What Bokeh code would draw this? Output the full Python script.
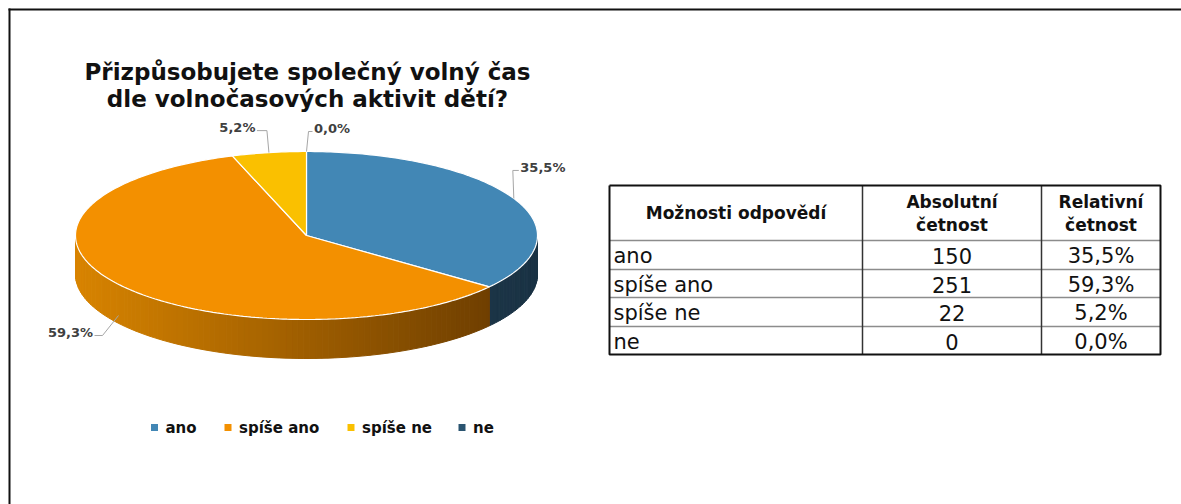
import numpy as np
from bokeh.plotting import figure
from bokeh.models import Range1d
from bokeh.core.properties import value
from bokeh.embed import file_html
from bokeh.resources import INLINE

# ---------------- data ----------------
title_lines = ["Přizpůsobujete společný volný čas", "dle volnočasových aktivit dětí?"]
categories = ["ano", "spíše ano", "spíše ne", "ne"]
counts = [150, 251, 22, 0]
table_header = ["Možnosti odpovědí", "Absolutní", "četnost", "Relativní", "četnost"]

# ---------------- styles ----------------
top_colors = ["#4287b5", "#f39000", "#fac000", "#2a5470"]
side_light = ["#24465e", "#d88400", "#c99a00", "#1e3a4e"]
side_dark = ["#1a3244", "#633700", "#7a5e00", "#15293a"]
FONT = value("DejaVu Sans")

W, H = 1181, 504

p = figure(width=W, height=H, output_backend="svg", toolbar_location=None,
           x_range=Range1d(0, W), y_range=Range1d(H, 0), min_border=0,
           x_axis_type=None, y_axis_type=None)
p.grid.visible = False
p.outline_line_color = None
p.background_fill_color = "white"
p.border_fill_color = "white"

# frame lines (top and left), running off the page edges
p.segment(x0=[8, 9], y0=[9, 8], x1=[W + 20, 9], y1=[9, H + 20],
          line_color="#111111", line_width=2)

# ---------------- title ----------------
p.text(x=[307] * 2, y=[71, 98], text=title_lines, text_font=FONT,
       text_font_style="bold", text_font_size="23px", text_color="#111111",
       text_align="center", text_baseline="alphabetic")

# ---------------- 3D pie ----------------
CX, CY = 306, 235
RX, RY = 231, 84
DEPTH = 39

def pt(theta):
    t = np.radians(theta)
    return CX + RX * np.sin(t), CY - RY * np.cos(t)

total = float(sum(counts))
extents = [c / total * 360.0 for c in counts]
starts = np.concatenate([[0.0], np.cumsum(extents)[:-1]])

def lerp_color(c1, c2, u):
    a = [int(c1[i:i + 2], 16) for i in (1, 3, 5)]
    b = [int(c2[i:i + 2], 16) for i in (1, 3, 5)]
    r = [int(round(a[k] + (b[k] - a[k]) * u)) for k in range(3)]
    return "#%02x%02x%02x" % tuple(r)

# side walls (visible between 90 and 270 degrees)
sx, sy, sc = [], [], []
for i, (s, e) in enumerate(zip(starts, extents)):
    a0, a1 = max(s, 90.0), min(s + e, 270.0)
    if e <= 0 or a1 <= a0:
        continue
    n = max(2, int((a1 - a0) / 1.5))
    ts = np.linspace(a0, a1, n + 1)
    for k in range(n):
        xa, ya = pt(ts[k])
        xb, yb = pt(ts[k + 1])
        sx.append([xa, xb, xb, xa])
        sy.append([ya, yb, yb + DEPTH, ya + DEPTH])
        u = ((xa + xb) / 2 - (CX - RX)) / (2 * RX)
        sc.append(lerp_color(side_light[i], side_dark[i], u))
p.patches(xs=sx, ys=sy, fill_color=sc, line_color=sc, line_width=1)

# top faces
tx, ty, tc = [], [], []
for i, (s, e) in enumerate(zip(starts, extents)):
    if e <= 0:
        continue
    ts = np.linspace(s, s + e, max(3, int(e / 1.0)) + 1)
    xs, ys = pt(ts)
    tx.append([CX] + list(xs))
    ty.append([CY] + list(ys))
    tc.append(top_colors[i])
p.patches(xs=tx, ys=ty, fill_color=tc, line_color="white", line_width=1.2)

# data labels with leader lines
labels = [("%.1f" % (c / total * 100)).replace(".", ",") + "%" for c in counts]
mids = [s + e / 2 for s, e in zip(starts, extents)]
# layout: (extra depth fraction, elbow dx, elbow dy, horizontal run, side)
lab_layout = [(0.0, -1, -28, 6, 1), (0.8, -16, 20, -8, -1), (0.0, -2, -22, -10, -1), (0.0, 2, -20, 4, 1)]
lx, ly = [], []
for i, m in enumerate(mids):
    f, dx, dy, run, side = lab_layout[i]
    ax, ay = pt(m)
    ay = ay + f * DEPTH
    ex, ey = ax + dx, ay + dy
    hx = ex + run
    lx.append([ax, ex, hx])
    ly.append([ay, ey, ey])
    p.text(x=[hx + side * 1.5], y=[ey - 3], text=[labels[i]], text_font=FONT,
           text_font_style="bold", text_font_size="13px", text_color="#404040",
           text_align="left" if side > 0 else "right", text_baseline="middle")
p.multi_line(xs=lx, ys=ly, line_color="#a6a6a6", line_width=1)

# ---------------- legend ----------------
leg_x = [154, 227.5, 350.5, 461.5]
leg_y = 427
p.rect(x=leg_x, y=[leg_y] * 4, width=7, height=7, fill_color=top_colors, line_color=None)
p.text(x=[v + 11 for v in leg_x], y=[leg_y] * 4, text=categories, text_font=FONT,
       text_font_style="bold", text_font_size="15px", text_color="#111111",
       text_align="left", text_baseline="middle")

# ---------------- table ----------------
col_x = [609, 862, 1041, 1160]
row_y = [185, 240, 269, 297, 326, 354]
# inner horizontal lines
p.segment(x0=[col_x[0]] * 4, x1=[col_x[-1]] * 4, y0=row_y[1:5], y1=row_y[1:5],
          line_color="#8c8c8c", line_width=1.5)
# inner vertical lines
p.segment(x0=col_x[1:3], x1=col_x[1:3], y0=[row_y[0]] * 2, y1=[row_y[-1]] * 2,
          line_color="#333333", line_width=1.5)
# outer border
p.multi_line(xs=[[col_x[0], col_x[-1], col_x[-1], col_x[0], col_x[0]]],
             ys=[[row_y[0], row_y[0], row_y[-1], row_y[-1], row_y[0]]],
             line_color="#111111", line_width=2)

cc = [(col_x[k] + col_x[k + 1]) / 2 for k in range(3)]
hy = (row_y[0] + row_y[1]) / 2
p.text(x=[cc[0], cc[1], cc[1], cc[2], cc[2]],
       y=[hy, hy - 11.5, hy + 11.5, hy - 11.5, hy + 11.5],
       text=table_header, text_font=FONT, text_font_style="bold",
       text_font_size="17px", text_color="#111111",
       text_align="center", text_baseline="middle")

rc = [(row_y[k] + row_y[k + 1]) / 2 + 1 for k in range(1, 5)]
p.text(x=[col_x[0] + 4] * 4, y=rc, text=categories, text_font=FONT,
       text_font_size="21px", text_color="#111111", text_align="left", text_baseline="middle")
p.text(x=[cc[1]] * 4, y=rc, text=[str(c) for c in counts], text_font=FONT,
       text_font_size="21px", text_color="#111111", text_align="center", text_baseline="middle")
p.text(x=[cc[2]] * 4, y=rc, text=labels, text_font=FONT,
       text_font_size="21px", text_color="#111111", text_align="center", text_baseline="middle")

open("out.html", "w").write(file_html(p, INLINE))
